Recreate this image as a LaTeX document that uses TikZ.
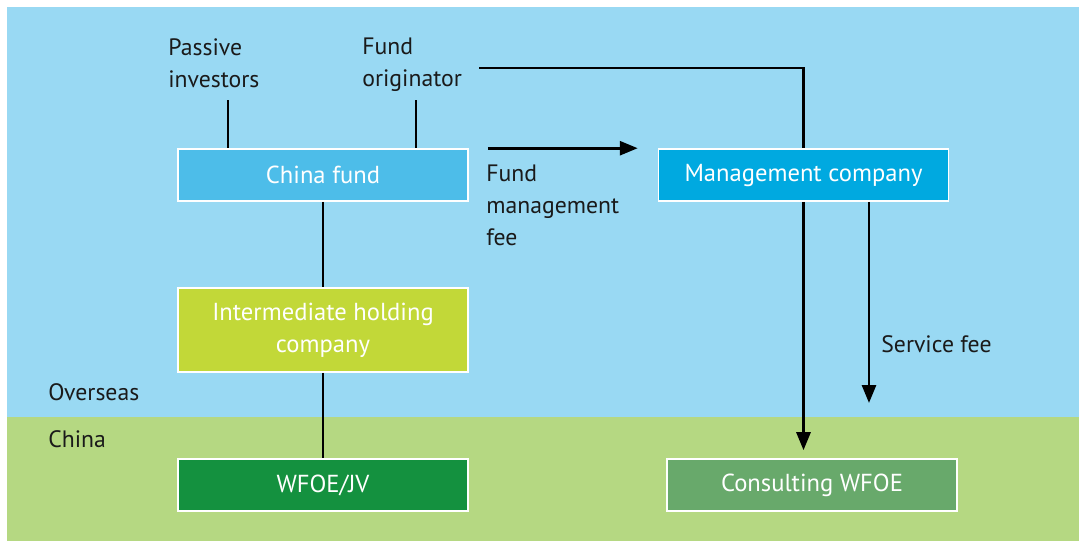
\documentclass[tikz,border=0pt]{standalone}
\usepackage{fontspec}
\setmainfont{PT Sans}
\usetikzlibrary{arrows.meta}
\definecolor{overseasblue}{HTML}{99D9F3}
\definecolor{chinagreen}{HTML}{B5D882}
\definecolor{fundblue}{HTML}{4DBDE9}
\definecolor{mgmtblue}{HTML}{00A9E0}
\definecolor{holdinglime}{HTML}{C2D838}
\definecolor{wfoegreen}{HTML}{14913F}
\definecolor{consultgreen}{HTML}{68A96B}
\definecolor{labelgrey}{HTML}{1A1A1A}

\begin{document}
\begin{tikzpicture}[x = 0.02cm, y = -0.02cm,
        font = \fontsize{13.5}{18.2}\selectfont,
        entity/.style = {draw = white, line width = 0.9pt, text = white,
            font = \fontsize{14}{18.2}\selectfont,
            minimum width = 5.8cm, minimum height = 1.04cm, align = center, inner sep = 0pt},
        caption/.style = {text = labelgrey, align = left, inner sep = 0pt},
        link/.style = {line width = 1.6pt},
        flow/.style = {line width = 1.6pt, -{Triangle[length = 0.36cm, width = 0.28cm]}}]
    \useasboundingbox (0, 0) rectangle (1079, 541);
    % Regions
    \fill [overseasblue] (7, 7) rectangle (1079, 417);
    \fill [chinagreen] (7, 417) rectangle (1079, 541);
    \node [caption, anchor = base west] (overseas) at (48, 400) {Overseas};
    \node [caption, anchor = base west] (china) at (48, 447) {China};
    % Entities
    \node [entity, fill = fundblue] (fund) at (323, 175) {China fund};
    \node [entity, fill = mgmtblue] (mgmt) at (803.5, 175) {Management company};
    \node [entity, fill = holdinglime, minimum height = 1.68cm] (holding) at (323, 330)
        {Intermediate holding\\company};
    \node [entity, fill = wfoegreen] (wfoe) at (323, 485) {WFOE/JV};
    \node [entity, fill = consultgreen] (consult) at (812, 485) {Consulting WFOE};
    % Labels
    \node [caption, anchor = north west] (investors) at (168, 38) {Passive\\investors};
    \node [caption, anchor = north west] (originator) at (362, 38) {Fund\\originator};
    \node [caption, anchor = north west] (mgmtfee) at (486, 165) {Fund\\management\\fee};
    \node [caption, anchor = base west] (servicefee) at (881, 352) {Service fee};
    % Ownership
    \coordinate (investorsfoot) at (228, 100);
    \coordinate (originatorfoot) at (416, 100);
    \draw [link] (investorsfoot) -- (investorsfoot |- fund.north);
    \draw [link] (originatorfoot) -- (originatorfoot |- fund.north);
    \draw [link] (fund) -- (holding);
    \draw [link] (holding) -- (wfoe);
    % Originator to management company
    \coordinate (originatorend) at (479, 68);
    \draw [link] (originatorend) -| (mgmt.north);
    % Fees
    \draw [flow] ([xshift = 0.38cm]fund.north east) -- ([xshift = -0.4cm]mgmt.north west);
    \draw [flow] (mgmt.south) -- ([yshift = 0.16cm]mgmt.south |- consult.north);
    \coordinate (servicefeeend) at (869, 403);
    \draw [flow] (mgmt.south -| servicefeeend) -- (servicefeeend);
\end{tikzpicture}
\end{document}
